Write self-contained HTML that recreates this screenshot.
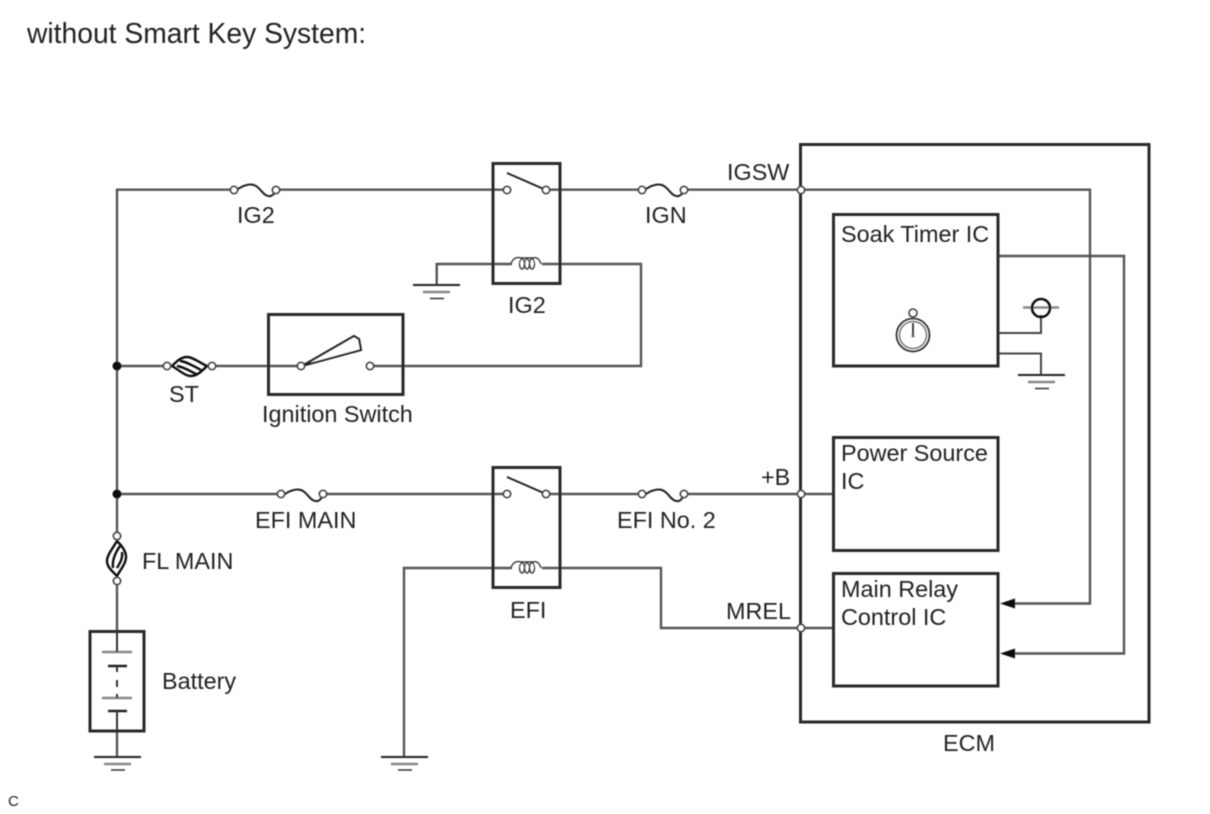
<!DOCTYPE html>
<html><head><meta charset="utf-8"><style>
html,body{margin:0;padding:0;background:#fff;width:1210px;height:814px;overflow:hidden}
svg{display:block;position:absolute;left:0;top:0}
text{font-family:"Liberation Sans",sans-serif;fill:#222;font-size:23.4px}
.w{fill:none;stroke:#555;stroke-width:2.4}
.b{fill:none;stroke:#2a2a2a;stroke-width:3}
.c{fill:#fff;stroke:#444;stroke-width:1.8}
.t{fill:none;stroke:#222;stroke-width:2}
.k{fill:none;stroke:#111;stroke-width:2.4}
</style></head><body>
<svg width="1210" height="814" viewBox="0 0 1210 814" xmlns="http://www.w3.org/2000/svg">
<defs><filter id="f" x="-2%" y="-2%" width="104%" height="104%"><feGaussianBlur stdDeviation="0.5"/></filter></defs>
<g filter="url(#f)">
<text x="27" y="43" style="font-size:28.25px">without Smart Key System:</text>
<text x="8" y="806" style="font-size:15px">C</text>

<!-- wires -->
<path class="w" d="M234 189.700H117V536M276 189.700H507M547 189.700H642M684 189.700H1090V603.500H1012"/>
<path class="w" d="M436.700 285V264H512M542 264H641V366H370"/>
<path class="w" d="M117 366H168M212 366H302"/>
<path class="w" d="M117 494H280M323 494H507M547 494H642M684 494H833"/>
<path class="w" d="M404 757V568H512M542 568H661V628H833"/>
<path class="w" stroke="#333" d="M117 581V631M117 731V757M998 256H1124V653.500H1012"/>
<path class="w" style="stroke:#444;stroke-width:2" d="M998 333H1041V315M998 353.500H1041V375"/>
<path stroke="#888" stroke-width="2.400" d="M1023 307.500H1059"/>

<!-- boxes -->
<rect class="b" x="800.500" y="144.500" width="348.500" height="577.500"/>
<rect class="b" x="833.500" y="214.500" width="164.500" height="151.500"/>
<rect class="b" x="833.500" y="437.500" width="164.500" height="113"/>
<rect class="b" x="833.500" y="573.500" width="164.500" height="112.500"/>
<rect class="b" x="493" y="163.500" width="67" height="120"/>
<rect class="b" x="493" y="467.500" width="67" height="120"/>
<rect class="b" x="268.500" y="314.500" width="134.500" height="80"/>
<rect class="b" x="90" y="631.500" width="54" height="99.500"/>

<!-- fuses -->
<path class="t" d="M238 189c6-4 13-6 18-3 5 3 7 9 12 10 4 1 6-2 8-6"/>
<circle class="c" cx="234" cy="190" r="3.600"/><circle class="c" cx="276" cy="190" r="3.600"/>
<path class="t" d="M646 189c6-4 13-6 18-3 5 3 7 9 12 10 4 1 6-2 8-6"/>
<circle class="c" cx="642" cy="190" r="3.600"/><circle class="c" cx="684" cy="190" r="3.600"/>
<path class="t" d="M285 494c6-4 13-6 18-3 5 3 7 9 12 10 4 1 6-2 8-6"/>
<circle class="c" cx="281" cy="494" r="3.600"/><circle class="c" cx="323" cy="494" r="3.600"/>
<path class="t" d="M646 494c6-4 13-6 18-3 5 3 7 9 12 10 4 1 6-2 8-6"/>
<circle class="c" cx="642" cy="494" r="3.600"/><circle class="c" cx="684" cy="494" r="3.600"/>
<!-- ST fuse -->
<path class="k" d="M172 366c5-5 9-9 15-9s13 6 20 9c-5 5-10 10-16 10s-12-6-19-10zM180 361c8 1 15 6 21 9M177 366c7 1 13 5 19 8"/>
<circle class="c" cx="167" cy="366" r="3.600"/><circle class="c" cx="212" cy="366" r="3.600"/>
<!-- FL MAIN fuse -->
<path class="k" d="M117 541c5 5 9 10 9 16s-5 12-9 19c-5-5-10-9-10-15s6-13 10-20zM120 546c-5 7-8 14-7 22M122 552c1 6-2 11-5 16"/>
<circle class="c" cx="117" cy="536" r="3.600"/><circle class="c" cx="117" cy="581" r="3.600"/>

<!-- relay contacts -->
<path class="t" d="M507 173L546 190"/>
<circle class="c" cx="507" cy="190" r="3.600"/><circle class="c" cx="546" cy="190" r="3.600"/>
<path class="t" d="M507 477L546 494"/>
<circle class="c" cx="507" cy="494" r="3.600"/><circle class="c" cx="546" cy="494" r="3.600"/>
<!-- coils -->
<g><path fill="#fff" stroke="#333" stroke-width="1.500" d="M511 264c2-6 6-7 10-6 2 0 4 0 6 0s5 0 6 0c4-1 6 1 8 6"/><ellipse cx="522" cy="264" rx="2.500" ry="5" fill="none" stroke="#444" stroke-width="1.500"/><ellipse cx="527" cy="264" rx="2.500" ry="5" fill="none" stroke="#444" stroke-width="1.500"/><ellipse cx="532" cy="264" rx="2.500" ry="5" fill="none" stroke="#444" stroke-width="1.500"/></g>
<g transform="translate(0 304)"><path fill="#fff" stroke="#333" stroke-width="1.500" d="M511 264c2-6 6-7 10-6 2 0 4 0 6 0s5 0 6 0c4-1 6 1 8 6"/><ellipse cx="522" cy="264" rx="2.500" ry="5" fill="none" stroke="#444" stroke-width="1.500"/><ellipse cx="527" cy="264" rx="2.500" ry="5" fill="none" stroke="#444" stroke-width="1.500"/><ellipse cx="532" cy="264" rx="2.500" ry="5" fill="none" stroke="#444" stroke-width="1.500"/></g>

<!-- ignition switch -->
<path fill="#fff" stroke="#222" stroke-width="2.200" d="M302 366L354 336 359 339 361 350Z"/>
<circle class="c" cx="301" cy="366" r="3.600"/><circle class="c" cx="370" cy="366" r="3.600"/>

<!-- grounds -->
<path class="t" stroke-width="2.500" d="M413 285H460"/><path stroke="#888" stroke-width="2.400" d="M423 292H450"/><path stroke="#333" stroke-width="1.500" d="M430 298.500H444"/>
<path class="t" stroke-width="2.500" d="M381 757H428"/><path stroke="#888" stroke-width="2.400" d="M391 764H418"/><path stroke="#333" stroke-width="1.500" d="M398 770H412"/>
<path class="t" stroke-width="2.500" d="M94 757H141"/><path stroke="#888" stroke-width="2.400" d="M104 764H131"/><path stroke="#333" stroke-width="1.500" d="M111 770H125"/>
<path class="t" stroke-width="2.500" d="M1018 375H1065"/><path stroke="#888" stroke-width="2.400" d="M1028 382H1055"/><path stroke="#333" stroke-width="1.500" d="M1035 388.500H1049"/>

<!-- battery -->
<path stroke="#888" stroke-width="2.400" d="M102 652H132M102 698H132"/>
<path stroke="#222" stroke-width="2.400" d="M108 666H127M108 711H127"/>
<path fill="none" stroke="#333" stroke-width="2" d="M117 631V652M117 666V672M117 680V687M117 694V698M117 711V731"/>

<!-- sensor circle -->
<circle cx="1041" cy="308" r="9" fill="none" stroke="#111" stroke-width="2.500"/>

<!-- stopwatch -->
<circle cx="913" cy="335" r="16.500" fill="none" stroke="#333" stroke-width="1.800"/>
<circle cx="913" cy="335" r="13.500" fill="none" stroke="#777" stroke-width="1.500"/>
<circle cx="913" cy="313" r="4" fill="none" stroke="#444" stroke-width="1.600"/>
<path stroke="#333" stroke-width="1.800" d="M913 323V335"/>
<circle cx="913" cy="336" r="1.500" fill="#666"/>

<!-- junctions -->
<circle cx="117" cy="366" r="4.500" fill="#111"/><circle cx="117" cy="494" r="4.500" fill="#111"/>
<circle class="c" cx="801" cy="190" r="3.600"/><circle class="c" cx="801" cy="494" r="3.600"/><circle class="c" cx="801" cy="628" r="3.600"/>

<!-- arrows -->
<path fill="#111" d="M1000 603.500L1015 598.500V608.500Z"/><path fill="#111" d="M1000 653.500L1015 648.500V658.500Z"/>

<!-- labels -->
<text x="237" y="223">IG2</text>
<text x="645" y="223">IGN</text>
<text x="508" y="313">IG2</text>
<text x="727" y="180">IGSW</text>
<text x="169" y="402">ST</text>
<text x="262" y="422">Ignition Switch</text>
<text x="255" y="528">EFI MAIN</text>
<text x="617" y="528">EFI No. 2</text>
<text x="761" y="485">+B</text>
<text x="510" y="618">EFI</text>
<text x="726" y="619">MREL</text>
<text x="142" y="569">FL MAIN</text>
<text x="162" y="689">Battery</text>
<text x="943" y="751">ECM</text>
<text x="841" y="242">Soak Timer IC</text>
<text x="841" y="461">Power Source</text>
<text x="841" y="489">IC</text>
<text x="841" y="597">Main Relay</text>
<text x="841" y="625">Control IC</text>
</g>
</svg>
</body></html>
